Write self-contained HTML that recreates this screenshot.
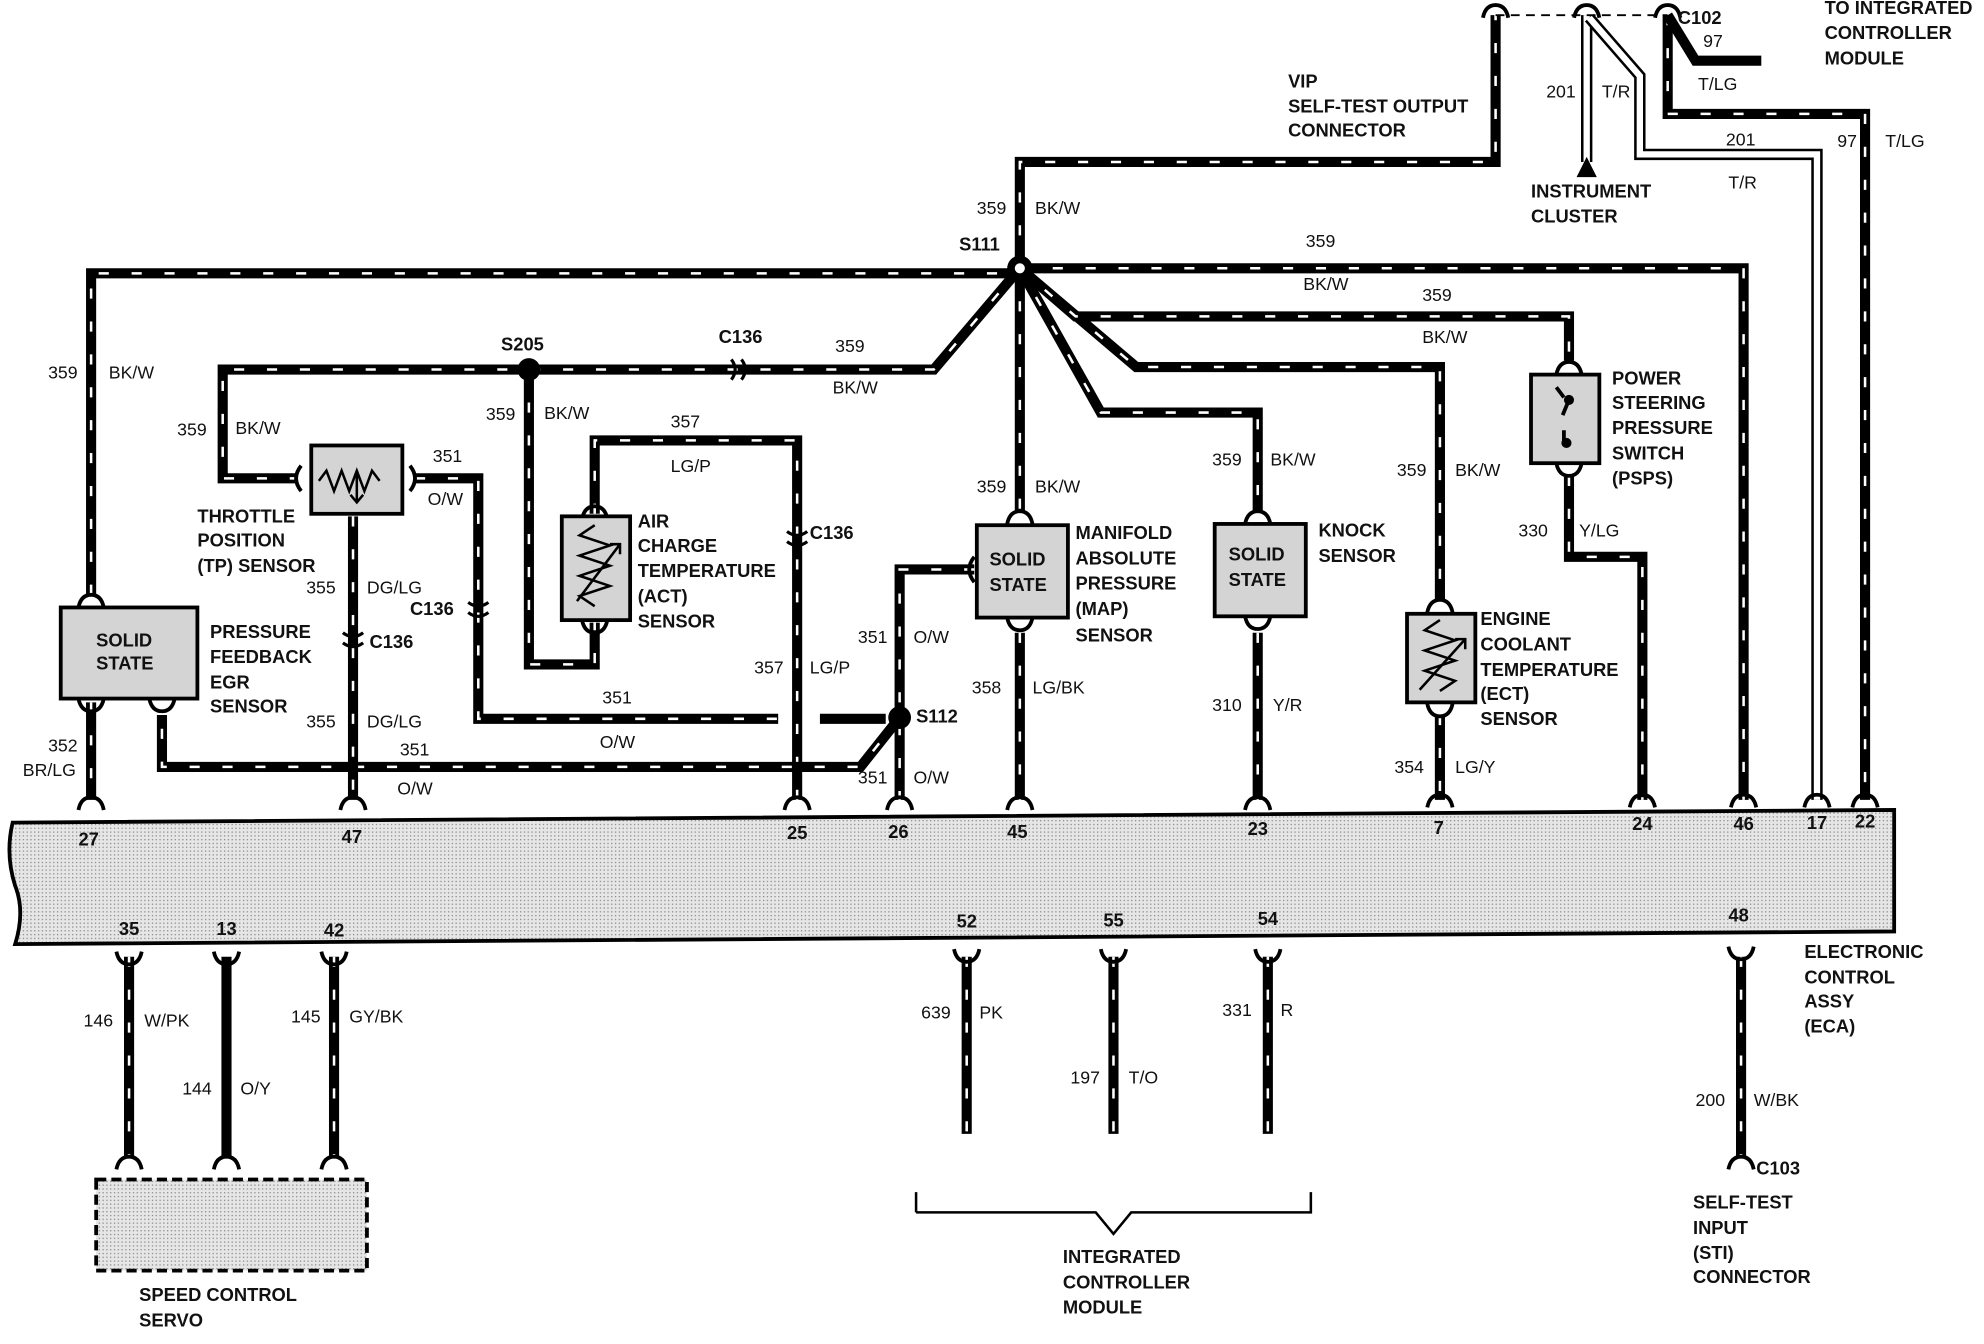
<!DOCTYPE html>
<html><head><meta charset="utf-8"><style>
html,body{margin:0;padding:0;background:#fff;}
svg{display:block;}
text{font-family:"Liberation Sans",sans-serif;font-size:14px;fill:#111;}
.b{font-weight:bold;font-size:14.5px;}
.w{fill:none;stroke:#000;stroke-width:8;stroke-linejoin:miter;}
.d{fill:none;stroke:#fff;stroke-width:2;stroke-dasharray:8 18;}
.s{fill:none;stroke:#000;stroke-width:8;}
.tw{fill:none;stroke:#000;stroke-width:9;}
.ti{fill:none;stroke:#fff;stroke-width:5;}
.box{fill:#d4d4d4;stroke:#000;stroke-width:3;}
</style></head><body>
<svg width="1984" height="1344" viewBox="0 0 1568 1062" preserveAspectRatio="none" xmlns="http://www.w3.org/2000/svg">
<defs>
<pattern id="dots" width="3" height="3" patternUnits="userSpaceOnUse"><rect width="3" height="3" fill="#e6e6e6"/><rect width="1" height="1" fill="#888"/></pattern>
<symbol id="cu" viewBox="0 0 20 12" overflow="visible"><path d="M0 12 Q2 2 10 2 Q18 2 20 12" fill="none" stroke="#000" stroke-width="3"/></symbol>
<symbol id="cd" viewBox="0 0 20 12" overflow="visible"><path d="M0 0 Q2 10 10 10 Q18 10 20 0" fill="none" stroke="#000" stroke-width="3"/></symbol>
</defs>

<path d="M10 650 L1497 640 L1497 736 L12 746 Q20 720 12 700 Q4 675 10 650 Z" fill="url(#dots)" stroke="#000" stroke-width="3"/>

<g id="wires">
<path class="w" d="M72 470 V216 H806"/><path class="d" d="M72 470 V216 H806"/>
<path class="w" d="M806 212 H1378 V632"/><path class="d" d="M806 212 H1378 V632"/>
<path class="w" d="M806 212 V128 H1182 V12"/><path class="d" d="M806 212 V128 H1182 V12"/>
<path class="w" d="M806 212 L738 292 H418 H176 V378 H234"/><path class="d" d="M806 212 L738 292 H418 H176 V378 H234"/>
<path class="w" d="M418 292 V525 H470 V492"/><path class="d" d="M418 292 V525 H470 V492"/>
<path class="w" d="M470 406 V348 H630 V632"/><path class="d" d="M470 406 V348 H630 V632"/>
<path class="w" d="M328 378 H378 V568 H615"/><path class="d" d="M328 378 H378 V568 H615"/>
<path class="w" d="M648 568 H700"/>
<path class="w" d="M770 450 H711 V632"/><path class="d" d="M770 450 H711 V632"/>
<path class="w" d="M711 567 L680 606 H128 V565"/><path class="d" d="M711 567 L680 606 H128 V565"/>
<path class="w" d="M279 408 V632"/><path class="d" d="M279 408 V632"/>
<path class="w" d="M72 555 V632"/><path class="d" d="M72 555 V632"/>
<path class="w" d="M806 212 V404"/><path class="d" d="M806 212 V404"/>
<path class="w" d="M806 500 V632"/><path class="d" d="M806 500 V632"/>
<path class="w" d="M806 212 L870 326 H994 V404"/><path class="d" d="M806 212 L870 326 H994 V404"/>
<path class="w" d="M994 500 V632"/><path class="d" d="M994 500 V632"/>
<path class="w" d="M806 212 L898 290 H1138 V475"/><path class="d" d="M806 212 L898 290 H1138 V475"/>
<path class="w" d="M1138 565 V632"/><path class="d" d="M1138 565 V632"/>
<path class="w" d="M806 212 L850 250 H1240 V285"/><path class="d" d="M806 212 L850 250 H1240 V285"/>
<path class="w" d="M1240 376 V440 H1298 V632"/><path class="d" d="M1240 376 V440 H1298 V632"/>
<path class="w" d="M1318 12 V90 H1474 V632"/><path class="d" d="M1318 12 V90 H1474 V632"/>
<path class="s" d="M1318 12 L1340 48 H1392"/>
<path class="tw" d="M1254 12 V128"/><path class="ti" d="M1254 12 V128"/>
<path class="tw" d="M1256 14 L1296 60 V122 H1436 V632"/><path class="ti" d="M1256 14 L1296 60 V122 H1436 V632"/>
<path d="M1182 12 H1318" stroke="#000" stroke-width="1.5" stroke-dasharray="7 5" fill="none"/>
<path d="M1254 124 L1246 140 H1262 Z" fill="#000"/>
<path class="w" d="M102 756 V915"/><path class="d" d="M102 756 V915"/>
<path class="s" d="M179 756 V915"/>
<path class="w" d="M264 756 V915"/><path class="d" d="M264 756 V915"/>
<path class="w" d="M764 756 V896"/><path class="d" d="M764 756 V896"/>
<path class="w" d="M880 756 V896"/><path class="d" d="M880 756 V896"/>
<path class="w" d="M1002 756 V896"/><path class="d" d="M1002 756 V896"/>
<path class="w" d="M1376 756 V914"/><path class="d" d="M1376 756 V914"/>
</g>

<circle cx="806" cy="212" r="10" fill="#000"/><circle cx="806" cy="212" r="4" fill="#fff"/>
<circle cx="418" cy="292" r="9" fill="#000"/>
<circle cx="711" cy="567" r="9" fill="#000"/>
<path d="M578 284 q6 8 0 16 M586 284 q6 8 0 16" stroke="#000" stroke-width="2.5" fill="none"/>
<path d="M622 420 q8 6 16 0 M622 428 q8 6 16 0" stroke="#000" stroke-width="2.5" fill="none"/>
<path d="M370 476 q8 6 16 0 M370 484 q8 6 16 0" stroke="#000" stroke-width="2.5" fill="none"/>
<path d="M271 500 q8 6 16 0 M271 508 q8 6 16 0" stroke="#000" stroke-width="2.5" fill="none"/>

<g>
<use href="#cu" x="62" y="628" width="20" height="12"/>
<use href="#cu" x="269" y="628" width="20" height="12"/>
<use href="#cu" x="620" y="628" width="20" height="12"/>
<use href="#cu" x="701" y="628" width="20" height="12"/>
<use href="#cu" x="796" y="628" width="20" height="12"/>
<use href="#cu" x="984" y="628" width="20" height="12"/>
<use href="#cu" x="1128" y="626" width="20" height="12"/>
<use href="#cu" x="1288" y="626" width="20" height="12"/>
<use href="#cu" x="1368" y="626" width="20" height="12"/>
<use href="#cu" x="1426" y="626" width="20" height="12"/>
<use href="#cu" x="1464" y="626" width="20" height="12"/>
<use href="#cd" x="92" y="752" width="20" height="12"/>
<use href="#cd" x="169" y="752" width="20" height="12"/>
<use href="#cd" x="254" y="752" width="20" height="12"/>
<use href="#cd" x="754" y="750" width="20" height="12"/>
<use href="#cd" x="870" y="750" width="20" height="12"/>
<use href="#cd" x="992" y="750" width="20" height="12"/>
<use href="#cd" x="1366" y="748" width="20" height="12"/>
<use href="#cu" x="92" y="912" width="20" height="12"/>
<use href="#cu" x="169" y="912" width="20" height="12"/>
<use href="#cu" x="254" y="912" width="20" height="12"/>
<use href="#cu" x="1366" y="912" width="20" height="12"/>
<use href="#cu" x="62" y="468" width="20" height="12"/>
<use href="#cd" x="62" y="552" width="20" height="12"/>
<use href="#cd" x="118" y="552" width="20" height="12"/>
<use href="#cu" x="796" y="402" width="20" height="12"/>
<use href="#cd" x="796" y="488" width="20" height="12"/>
<use href="#cu" x="984" y="402" width="20" height="12"/>
<use href="#cd" x="984" y="487" width="20" height="12"/>
<use href="#cu" x="1128" y="472" width="20" height="12"/>
<use href="#cd" x="1128" y="556" width="20" height="12"/>
<use href="#cu" x="1230" y="284" width="20" height="12"/>
<use href="#cd" x="1230" y="366" width="20" height="12"/>
<use href="#cu" x="460" y="398" width="20" height="12"/>
<use href="#cd" x="460" y="490" width="20" height="12"/>
<use href="#cu" x="1172" y="2" width="20" height="12"/>
<use href="#cu" x="1244" y="2" width="20" height="12"/>
<use href="#cu" x="1308" y="2" width="20" height="12"/>
</g>
<path d="M238 368 q-8 10 0 20 M324 368 q8 10 0 20 M770 440 q-8 10 0 20" stroke="#000" stroke-width="3" fill="none"/>

<rect class="box" x="48" y="480" width="108" height="72"/>
<text class="b" x="76" y="511">SOLID</text><text class="b" x="76" y="529">STATE</text>
<rect class="box" x="246" y="352" width="72" height="54"/>
<path d="M252 380 l6 -8 l6 16 l6 -16 l6 16 l6 -16 l6 16 l6 -16 l6 8" stroke="#000" stroke-width="2" fill="none"/>
<path d="M282 372 v24 m-5 -5 l5 6 l5 -6" stroke="#000" stroke-width="2" fill="none"/>
<rect class="box" x="444" y="408" width="54" height="82"/>
<path d="M470 415 l-12 8 l24 8 l-24 8 l24 8 l-24 8 l24 8 l-24 8 l12 8" stroke="#000" stroke-width="2" fill="none"/>
<path d="M456 475 L490 430 m-8 0 h8 v8" stroke="#000" stroke-width="2" fill="none"/>
<rect class="box" x="772" y="415" width="72" height="73"/>
<text class="b" x="782" y="447">SOLID</text><text class="b" x="782" y="467">STATE</text>
<rect class="box" x="960" y="414" width="72" height="73"/>
<text class="b" x="971" y="443">SOLID</text><text class="b" x="971" y="463">STATE</text>
<rect class="box" x="1112" y="485" width="54" height="70"/>
<path d="M1138 490 l-12 8 l24 8 l-24 8 l24 8 l-24 8 l24 8 l-12 8" stroke="#000" stroke-width="2" fill="none"/>
<path d="M1122 545 L1158 505 m-8 0 h8 v8" stroke="#000" stroke-width="2" fill="none"/>
<rect class="box" x="1210" y="296" width="54" height="70"/>
<path d="M1230 306 l6 8 M1240 316 l-5 12 M1236 340 v12" stroke="#000" stroke-width="3" fill="none"/>
<circle cx="1240" cy="316" r="4"/><circle cx="1238" cy="350" r="4"/>
<rect x="76" y="932" width="214" height="72" fill="url(#dots)" stroke="#000" stroke-width="3" stroke-dasharray="8 4"/>
<path d="M724 958 V942 M724 958 H866 L880 975 L894 958 H1036 V942" stroke="#000" stroke-width="2" fill="none"/>

<g>
<text class="b" x="1018" y="69">VIP</text>
<text class="b" x="1018" y="89">SELF-TEST OUTPUT</text>
<text class="b" x="1018" y="108">CONNECTOR</text>
<text class="b" x="1326" y="19">C102</text>
<text class="b" x="1442" y="11">TO INTEGRATED</text>
<text class="b" x="1442" y="31">CONTROLLER</text>
<text class="b" x="1442" y="51">MODULE</text>
<text class="b" x="1210" y="156">INSTRUMENT</text>
<text class="b" x="1210" y="176">CLUSTER</text>
<text class="b" x="758" y="198">S111</text>
<text class="b" x="396" y="277">S205</text>
<text class="b" x="568" y="271">C136</text>
<text class="b" x="640" y="426">C136</text>
<text class="b" x="324" y="486">C136</text>
<text class="b" x="292" y="512">C136</text>
<text class="b" x="724" y="571">S112</text>
<text class="b" x="156" y="413">THROTTLE</text>
<text class="b" x="156" y="432">POSITION</text>
<text class="b" x="156" y="452">(TP) SENSOR</text>
<text class="b" x="504" y="417">AIR</text>
<text class="b" x="504" y="436">CHARGE</text>
<text class="b" x="504" y="456">TEMPERATURE</text>
<text class="b" x="504" y="476">(ACT)</text>
<text class="b" x="504" y="496">SENSOR</text>
<text class="b" x="166" y="504">PRESSURE</text>
<text class="b" x="166" y="524">FEEDBACK</text>
<text class="b" x="166" y="544">EGR</text>
<text class="b" x="166" y="563">SENSOR</text>
<text class="b" x="850" y="426">MANIFOLD</text>
<text class="b" x="850" y="446">ABSOLUTE</text>
<text class="b" x="850" y="466">PRESSURE</text>
<text class="b" x="850" y="486">(MAP)</text>
<text class="b" x="850" y="507">SENSOR</text>
<text class="b" x="1042" y="424">KNOCK</text>
<text class="b" x="1042" y="444">SENSOR</text>
<text class="b" x="1170" y="494">ENGINE</text>
<text class="b" x="1170" y="514">COOLANT</text>
<text class="b" x="1170" y="534">TEMPERATURE</text>
<text class="b" x="1170" y="553">(ECT)</text>
<text class="b" x="1170" y="573">SENSOR</text>
<text class="b" x="1274" y="304">POWER</text>
<text class="b" x="1274" y="323">STEERING</text>
<text class="b" x="1274" y="343">PRESSURE</text>
<text class="b" x="1274" y="363">SWITCH</text>
<text class="b" x="1274" y="383">(PSPS)</text>
<text class="b" x="1426" y="757">ELECTRONIC</text>
<text class="b" x="1426" y="777">CONTROL</text>
<text class="b" x="1426" y="796">ASSY</text>
<text class="b" x="1426" y="816">(ECA)</text>
<text class="b" x="1388" y="928">C103</text>
<text class="b" x="1338" y="955">SELF-TEST</text>
<text class="b" x="1338" y="975">INPUT</text>
<text class="b" x="1338" y="995">(STI)</text>
<text class="b" x="1338" y="1014">CONNECTOR</text>
<text class="b" x="840" y="998">INTEGRATED</text>
<text class="b" x="840" y="1018">CONTROLLER</text>
<text class="b" x="840" y="1038">MODULE</text>
<text class="b" x="110" y="1028">SPEED CONTROL</text>
<text class="b" x="110" y="1048">SERVO</text>
<text class="b" x="62" y="668">27</text><text class="b" x="270" y="666">47</text>
<text class="b" x="622" y="663">25</text><text class="b" x="702" y="662">26</text>
<text class="b" x="796" y="662">45</text><text class="b" x="986" y="660">23</text>
<text class="b" x="1133" y="659">7</text><text class="b" x="1290" y="656">24</text>
<text class="b" x="1370" y="656">46</text><text class="b" x="1428" y="655">17</text>
<text class="b" x="1466" y="654">22</text>
<text class="b" x="94" y="739">35</text><text class="b" x="171" y="739">13</text>
<text class="b" x="256" y="740">42</text><text class="b" x="756" y="733">52</text>
<text class="b" x="872" y="732">55</text><text class="b" x="994" y="731">54</text>
<text class="b" x="1366" y="728">48</text>
</g>
<g>
<text x="1222" y="77">201</text><text x="1266" y="77">T/R</text>
<text x="1346" y="37">97</text><text x="1342" y="71">T/LG</text>
<text x="1364" y="115">201</text><text x="1366" y="149">T/R</text>
<text x="1452" y="116">97</text><text x="1490" y="116">T/LG</text>
<text x="772" y="169">359</text><text x="818" y="169">BK/W</text>
<text x="1032" y="195">359</text><text x="1030" y="229">BK/W</text>
<text x="1124" y="238">359</text><text x="1124" y="271">BK/W</text>
<text x="38" y="299">359</text><text x="86" y="299">BK/W</text>
<text x="140" y="344">359</text><text x="186" y="343">BK/W</text>
<text x="660" y="278">359</text><text x="658" y="311">BK/W</text>
<text x="384" y="332">359</text><text x="430" y="331">BK/W</text>
<text x="530" y="338">357</text><text x="530" y="373">LG/P</text>
<text x="342" y="365">351</text><text x="338" y="399">O/W</text>
<text x="242" y="469">355</text><text x="290" y="469">DG/LG</text>
<text x="242" y="575">355</text><text x="290" y="575">DG/LG</text>
<text x="596" y="532">357</text><text x="640" y="532">LG/P</text>
<text x="476" y="556">351</text><text x="474" y="591">O/W</text>
<text x="678" y="508">351</text><text x="722" y="508">O/W</text>
<text x="316" y="597">351</text><text x="314" y="628">O/W</text>
<text x="678" y="619">351</text><text x="722" y="619">O/W</text>
<text x="38" y="594">352</text><text x="18" y="613">BR/LG</text>
<text x="772" y="389">359</text><text x="818" y="389">BK/W</text>
<text x="768" y="548">358</text><text x="816" y="548">LG/BK</text>
<text x="958" y="368">359</text><text x="1004" y="368">BK/W</text>
<text x="958" y="562">310</text><text x="1006" y="562">Y/R</text>
<text x="1104" y="376">359</text><text x="1150" y="376">BK/W</text>
<text x="1102" y="611">354</text><text x="1150" y="611">LG/Y</text>
<text x="1200" y="424">330</text><text x="1248" y="424">Y/LG</text>
<text x="66" y="811">146</text><text x="114" y="811">W/PK</text>
<text x="144" y="865">144</text><text x="190" y="865">O/Y</text>
<text x="230" y="808">145</text><text x="276" y="808">GY/BK</text>
<text x="728" y="805">639</text><text x="774" y="805">PK</text>
<text x="846" y="856">197</text><text x="892" y="856">T/O</text>
<text x="966" y="803">331</text><text x="1012" y="803">R</text>
<text x="1340" y="874">200</text><text x="1386" y="874">W/BK</text>
</g>
</svg>
</body></html>
